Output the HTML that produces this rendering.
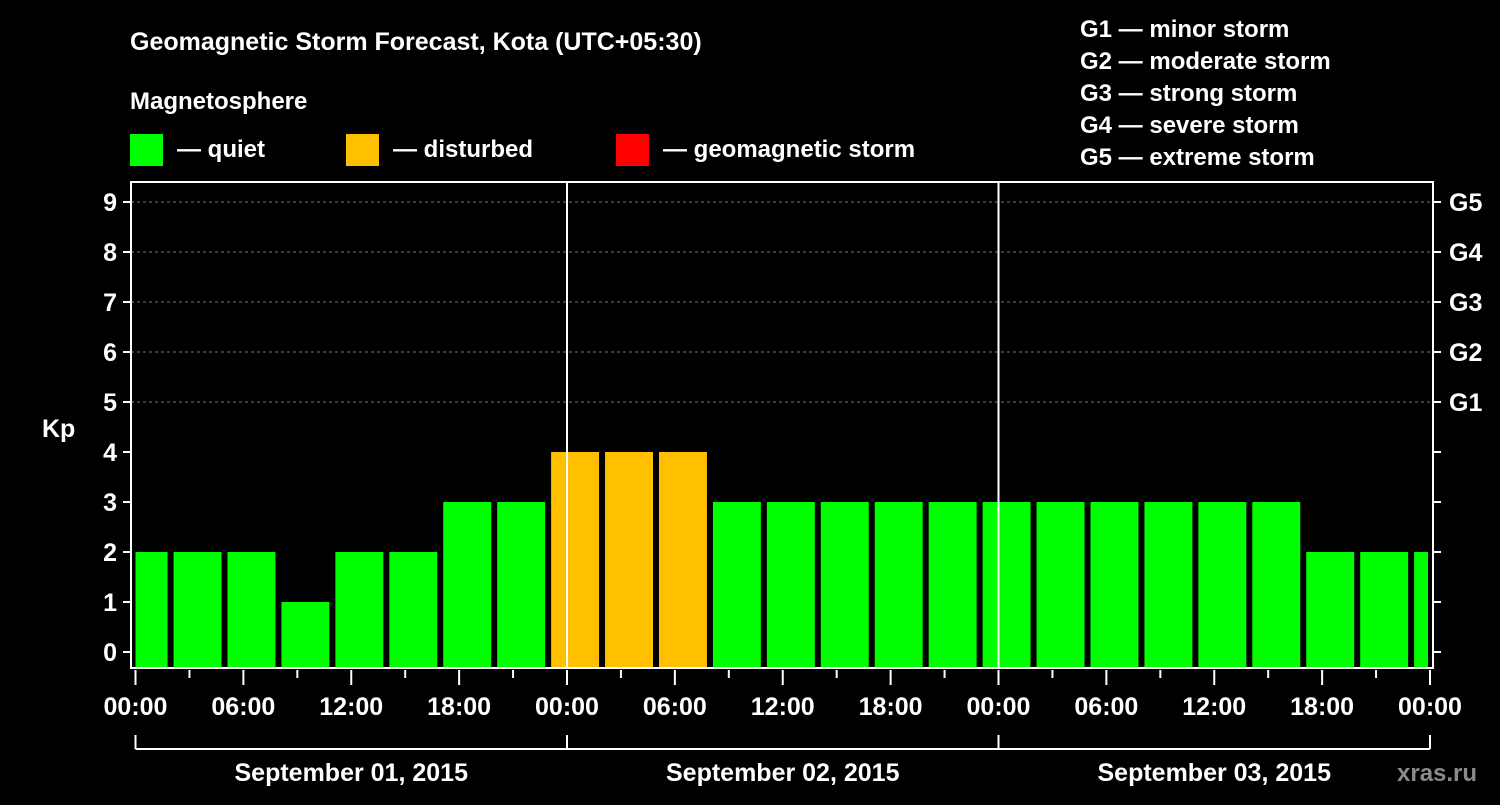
<!DOCTYPE html>
<html><head><meta charset="utf-8"><style>
body{margin:0;background:#000;width:1500px;height:800px;overflow:hidden}
svg text{font-family:"Liberation Sans",sans-serif;font-weight:bold;fill:#fff}
</style></head><body>
<svg id="c" width="1500" height="800">
<text x="130" y="50" font-size="25">Geomagnetic Storm Forecast, Kota (UTC+05:30)</text>
<text x="130" y="109" font-size="24">Magnetosphere</text>
<g><rect x="130" y="134" width="33" height="32" fill="#00ff00"/><text x="177" y="157" font-size="24">— quiet</text></g>
<g><rect x="346" y="134" width="33" height="32" fill="#ffc000"/><text x="393" y="157" font-size="24">— disturbed</text></g>
<g><rect x="616" y="134" width="33" height="32" fill="#ff0000"/><text x="663" y="157" font-size="24">— geomagnetic storm</text></g>
<g font-size="24">
<text x="1080" y="37">G1 — minor storm</text><text x="1080" y="69">G2 — moderate storm</text><text x="1080" y="101">G3 — strong storm</text><text x="1080" y="133">G4 — severe storm</text><text x="1080" y="165">G5 — extreme storm</text></g>
<text x="42" y="437" font-size="25">Kp</text>
<text x="1397" y="781" font-size="24" fill="#888" style="fill:#8a8a8a">xras.ru</text>
<g id="plot"></g>
</svg>
<script>
const kpValues=[2,2,2,1,2,2,3,3,4,4,4,3,3,3,3,3,3,3,3,3,3,3,2,2,2];
const binStartHours=[-1.05];
const yTicks=[0,1,2,3,4,5,6,7,8,9];
const gLabels=["G1","G2","G3","G4","G5"];
const xTickLabels=["00:00","06:00","12:00","18:00","00:00","06:00","12:00","18:00","00:00","06:00","12:00","18:00","00:00"];
const dayLabels=["September 01, 2015","September 02, 2015","September 03, 2015"];
const X0=135.5,X1=1430,HOURS=72,Y0=652,PY=50,L=131,R=1433,T=182,B=668;
const x=h=>X0+(X1-X0)*h/HOURS, y=v=>Y0-v*PY;
const ns="http://www.w3.org/2000/svg",g=document.getElementById('plot');
function mk(t,a,p){const e=document.createElementNS(ns,t);for(const k in a)e.setAttribute(k,a[k]);(p||g).appendChild(e);return e;}
// gridlines
for(let v=5;v<=9;v++){const e=mk('line',{x1:L,x2:R,y1:y(v),y2:y(v),stroke:'#777','stroke-dasharray':'3,3'});

}
// bars
kpValues.forEach((v,i)=>{const h0=binStartHours[0]+3*i,h1=h0+3;
let a=Math.max(x(h0)+3,X0),b=Math.min(x(h1)-3,X1-2);
const col=v>=5?'#ff0000':v>=4?'#ffc000':'#00ff00';
const e=mk('rect',{x:a,y:y(v),width:Math.max(0,b-a),height:B-y(v),fill:col});

});
// day lines
for(let d=1;d<3;d++){const e=mk('line',{x1:x(24*d),x2:x(24*d),y1:T,y2:B,stroke:'#fff','stroke-width':2});

}
// frame
const fr=mk('rect',{x:L,y:T,width:R-L,height:B-T,fill:'none',stroke:'#fff','stroke-width':2});


// y ticks
yTicks.forEach(v=>{mk('line',{x1:L-8,x2:L,y1:y(v),y2:y(v),stroke:'#fff','stroke-width':2});
mk('line',{x1:R,x2:R+8,y1:y(v),y2:y(v),stroke:'#fff','stroke-width':2});
const t=mk('text',{x:L-14,y:y(v)+9,'font-size':25,'text-anchor':'end'});t.textContent=v;

});
gLabels.forEach((s,i)=>{const t=mk('text',{x:1449,y:y(5+i)+9,'font-size':25});t.textContent=s;

});
// x ticks
for(let h=0;h<=HOURS;h+=3){const maj=h%6===0;mk('line',{x1:x(h),x2:x(h),y1:B+2,y2:B+(maj?17:10),stroke:'#fff','stroke-width':2});}
xTickLabels.forEach((s,i)=>{const t=mk('text',{x:x(6*i),y:715,'font-size':25,'text-anchor':'middle'});t.textContent=s;

});
// bracket
mk('line',{x1:x(0),x2:x(72),y1:749,y2:749,stroke:'#fff','stroke-width':2});
for(let d=0;d<=3;d++)mk('line',{x1:x(24*d),x2:x(24*d),y1:735,y2:749,stroke:'#fff','stroke-width':2});
dayLabels.forEach((s,i)=>{const t=mk('text',{x:x(24*i+12),y:781,'font-size':25,'text-anchor':'middle'});t.textContent=s;

});
</script>
</body></html>
